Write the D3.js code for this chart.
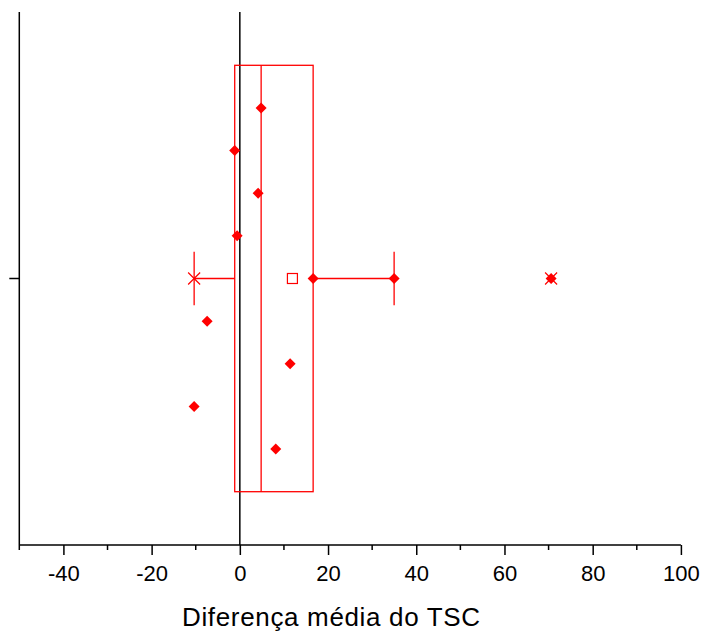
<!DOCTYPE html>
<html>
<head>
<meta charset="utf-8">
<script src="https://cdn.jsdelivr.net/npm/d3@7"></script>
<style>
  body { margin: 0; background: #fff; }
  svg { display: block; font-family: "Liberation Sans", Arial, sans-serif; }
</style>
</head>
<body>
<div id="chart"></div>
<script>
// values, in drawing order (top to bottom)
var values = [4.83, -1.16, 4.15, -0.61, 16.62, 34.98, 70.57, -7.41, 11.40, -10.36, 8.14];
// jitter row of each point (0 = on the box centre line)
var rows = [-4, -3, -2, -1, 0, 0, 0, 1, 2, 3, 4];
var xTicks = [-40, -20, 0, 20, 40, 60, 80, 100];
var xMinor = [-50, -30, -10, 10, 30, 50, 70, 90];
var xTitle = 'Diferença média do TSC';

var width = 701, height = 631;
var red = '#ff0000';

var svg = d3.select('#chart').append('svg')
  .attr('width', width)
  .attr('height', height);

var xScale = d3.scaleLinear().domain([-50, 100]).range([19.3, 680.9]);
var yScale = d3.scaleLinear().domain([0.5, 1.5]).range([545, 12]);
var rowStep = 0.08, boxHalf = 0.4, capHalf = 0.05;

// quartiles at (n+1)p positions
function quant(s, p) {
  var pos = (s.length + 1) * p - 1;
  var lo = Math.floor(pos), hi = Math.ceil(pos);
  return s[lo] + (s[hi] - s[lo]) * (pos - lo);
}
var sorted = values.slice().sort(d3.ascending);
var q1 = quant(sorted, 0.25);
var med = quant(sorted, 0.5);
var q3 = quant(sorted, 0.75);
var iqr = q3 - q1;
var lowW = d3.min(sorted.filter(function(v){ return v >= q1 - 1.5 * iqr; }));
var highW = d3.max(sorted.filter(function(v){ return v <= q3 + 1.5 * iqr; }));
var mean = d3.mean(values);
var vMin = d3.min(values), vMax = d3.max(values);
var cy = yScale(1);

// zero line
svg.append('line')
  .attr('x1', xScale(0)).attr('x2', xScale(0))
  .attr('y1', yScale(1.5)).attr('y2', yScale(0.5))
  .attr('stroke', '#000').attr('stroke-width', 1.5);

var g = svg.append('g')
  .attr('fill', 'none')
  .attr('stroke', red)
  .attr('stroke-width', 1.3);

// box
g.append('rect')
  .attr('x', xScale(q1))
  .attr('y', yScale(1 + boxHalf))
  .attr('width', xScale(q3) - xScale(q1))
  .attr('height', yScale(1 - boxHalf) - yScale(1 + boxHalf));
g.append('line')
  .attr('x1', xScale(med)).attr('x2', xScale(med))
  .attr('y1', yScale(1 + boxHalf)).attr('y2', yScale(1 - boxHalf));

// whiskers
g.append('line')
  .attr('x1', xScale(lowW)).attr('x2', xScale(q1))
  .attr('y1', cy).attr('y2', cy);
g.append('line')
  .attr('x1', xScale(q3)).attr('x2', xScale(highW))
  .attr('y1', cy).attr('y2', cy);
[lowW, highW].forEach(function(v){
  g.append('line')
    .attr('x1', xScale(v)).attr('x2', xScale(v))
    .attr('y1', yScale(1 + capHalf)).attr('y2', yScale(1 - capHalf));
});

// mean square
g.append('rect')
  .attr('x', xScale(mean) - 5).attr('y', cy - 5)
  .attr('width', 10).attr('height', 10)
  .attr('fill', '#fff')
  .attr('stroke-width', 1.2);

// data points
svg.append('g')
  .selectAll('path')
  .data(values)
  .enter()
  .append('path')
  .attr('d', 'M0,-5.5L5.5,0L0,5.5L-5.5,0Z')
  .attr('transform', function(d, i){
    return 'translate(' + xScale(d) + ',' + yScale(1 - rows[i] * rowStep) + ')';
  })
  .attr('fill', red);

// min / max crosses
[vMin, vMax].forEach(function(v){
  svg.append('path')
    .attr('d', 'M-6,-6L6,6M-6,6L6,-6')
    .attr('transform', 'translate(' + xScale(v) + ',' + cy + ')')
    .attr('stroke', red)
    .attr('stroke-width', 1.2);
});

// left axis
svg.append('line')
  .attr('x1', xScale(-50)).attr('x2', xScale(-50))
  .attr('y1', yScale(1.5)).attr('y2', yScale(0.5))
  .attr('stroke', '#000').attr('stroke-width', 1.5);
svg.append('line')
  .attr('x1', xScale(-50) - 10).attr('x2', xScale(-50))
  .attr('y1', cy).attr('y2', cy)
  .attr('stroke', '#000').attr('stroke-width', 1.5);

// bottom axis
var xAxis = d3.axisBottom(xScale)
  .tickValues(xTicks)
  .tickSize(10)
  .tickPadding(10)
  .tickFormat(d3.format('d'));
var ax = svg.append('g')
  .attr('transform', 'translate(0,' + yScale(0.5) + ')')
  .call(xAxis);
ax.select('.domain')
  .attr('d', 'M' + xScale(-50) + ',0H' + xScale(100))
  .attr('stroke-width', 1.5);
ax.selectAll('.tick line').attr('stroke-width', 1.5);
ax.selectAll('.tick text')
  .attr('font-size', 22)
  .attr('font-family', '"Liberation Sans", Arial, sans-serif')
  .attr('fill', '#000')
  .text(function(d){ return d < 0 ? '-' + Math.abs(d) : d; });
ax.selectAll('.minor')
  .data(xMinor)
  .enter()
  .append('line')
  .attr('class', 'minor')
  .attr('x1', function(d){ return xScale(d); })
  .attr('x2', function(d){ return xScale(d); })
  .attr('y1', 0).attr('y2', 5)
  .attr('stroke', '#000').attr('stroke-width', 1.5);

svg.append('text')
  .attr('x', 331)
  .attr('y', 626)
  .attr('text-anchor', 'middle')
  .attr('font-size', 26)
  .attr('textLength', 298)
  .attr('lengthAdjust', 'spacing')
  .text(xTitle);
</script>
</body>
</html>
